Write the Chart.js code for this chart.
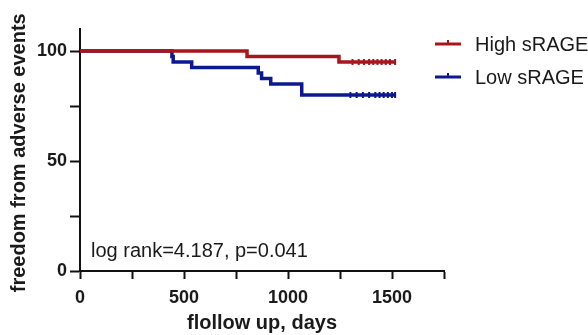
<!DOCTYPE html>
<html>
<head>
<meta charset="utf-8">
<script src="https://cdn.jsdelivr.net/npm/chart.js@4/dist/chart.umd.min.js"></script>
<style>
  html, body { margin: 0; padding: 0; background: #fff; }
  #wrap { width: 588px; height: 335px; }
</style>
</head>
<body>
<div id="wrap"><canvas id="kmChart" width="588" height="335"></canvas></div>
<script>
// Kaplan-Meier steps (days, % event free)
const highDays = [0, 803, 1245, 1515];
const highFree = [100, 97.5, 95, 95];
const lowDays = [0, 442, 448, 537, 857, 873, 917, 1066, 1515];
const lowFree = [100, 97.5, 95, 92.5, 90, 87.5, 85, 80, 80];

// censored observations (small vertical ticks)
const highCensorDays = [1310, 1340, 1365, 1390, 1410, 1430, 1450, 1470, 1490, 1515];
const highCensorFree = [95, 95, 95, 95, 95, 95, 95, 95, 95, 95];
const lowCensorDays = [1300, 1330, 1360, 1390, 1420, 1440, 1460, 1480, 1500, 1515];
const lowCensorFree = [80, 80, 80, 80, 80, 80, 80, 80, 80, 80];

const xTicks = [0, 250, 500, 750, 1000, 1250, 1500, 1750];
const xLabels = ['0', '', '500', '', '1000', '', '1500', ''];
const yTicks = [0, 25, 50, 75, 100];
const yLabels = ['0', '', '50', '', '100'];

const seriesNames = ['High sRAGE', 'Low sRAGE'];
const annotation = 'log rank=4.187, p=0.041';

const red = '#A8151D';
const blue = '#0C1890';
const fontFam = '"Liberation Sans", Arial, Helvetica, sans-serif';

function toPoints(xs, ys) {
    return xs.map((x, i) => ({ x: x, y: ys[i] }));
}

// legend + log rank text
const extrasPlugin = {
    id: 'extras',
    afterDraw(chart) {
        const ctx = chart.ctx;
        ctx.save();
        ctx.font = '20px ' + fontFam;
        ctx.fillStyle = '#1a1a1a';
        ctx.textBaseline = 'middle';
        ctx.fillText(annotation, 91, 251);

        const cols = [red, blue];
        const rows = [44, 77];
        cols.forEach((c, i) => {
            ctx.strokeStyle = c;
            ctx.lineWidth = 3;
            ctx.beginPath();
            ctx.moveTo(435, rows[i]);
            ctx.lineTo(461, rows[i]);
            ctx.stroke();
            ctx.lineWidth = 2;
            ctx.beginPath();
            ctx.moveTo(448, rows[i] - 4);
            ctx.lineTo(448, rows[i]);
            ctx.stroke();
            ctx.fillStyle = '#1a1a1a';
            ctx.font = '20px ' + fontFam;
            ctx.fillText(seriesNames[i], 475, rows[i] + 1);
        });
        ctx.restore();
    }
};

const cfg = {
    type: 'line',
    data: {
        datasets: [
            {
                label: seriesNames[0],
                data: toPoints(highDays, highFree),
                borderColor: red,
                borderWidth: 3.5,
                stepped: 'before',
                pointRadius: 0,
                fill: false
            },
            {
                label: seriesNames[1],
                data: toPoints(lowDays, lowFree),
                borderColor: blue,
                borderWidth: 3.5,
                stepped: 'before',
                pointRadius: 0,
                fill: false
            },
            {
                data: toPoints(highCensorDays, highCensorFree),
                showLine: false,
                pointStyle: 'line',
                rotation: 90,
                pointRadius: 3,
                borderColor: red,
                pointBorderWidth: 2
            },
            {
                data: toPoints(lowCensorDays, lowCensorFree),
                showLine: false,
                pointStyle: 'line',
                rotation: 90,
                pointRadius: 3,
                borderColor: blue,
                pointBorderWidth: 2
            }
        ]
    },
    options: {
        responsive: false,
        animation: false,
        layout: { padding: { top: 29, right: 144, left: 0, bottom: 0 } },
        plugins: {
            legend: { display: false },
            tooltip: { enabled: false }
        },
        scales: {
            x: {
                type: 'linear',
                min: 0,
                max: 1750,
                afterBuildTicks: (s) => { s.ticks = xTicks.map(v => ({ value: v })); },
                afterFit: (s) => { s.height = 64; },
                border: { display: true, color: '#111', width: 2 },
                grid: { drawOnChartArea: false, drawTicks: true, tickLength: 8, tickColor: '#111', tickWidth: 2 },
                ticks: {
                    autoSkip: false,
                    maxRotation: 0,
                    padding: 8,
                    color: '#1a1a1a',
                    font: { family: fontFam, size: 18, weight: 'bold' },
                    callback: (v) => xLabels[xTicks.indexOf(v)]
                },
                title: {
                    display: true,
                    text: 'flollow up, days',
                    color: '#1a1a1a',
                    padding: { top: -3, bottom: 0 },
                    font: { family: fontFam, size: 20, weight: 'bold' }
                }
            },
            y: {
                min: 0,
                max: 110,
                afterBuildTicks: (s) => { s.ticks = yTicks.map(v => ({ value: v })); },
                afterFit: (s) => { s.width = 80; },
                border: { display: true, color: '#111', width: 2 },
                grid: { drawOnChartArea: false, drawTicks: true, tickLength: 10, tickColor: '#111', tickWidth: 2 },
                ticks: {
                    autoSkip: false,
                    padding: 3,
                    color: '#1a1a1a',
                    font: { family: fontFam, size: 18, weight: 'bold' },
                    callback: (v) => yLabels[yTicks.indexOf(v)]
                },
                title: {
                    display: true,
                    // trailing space nudges the rotated title down a little
                    text: 'freedom from adverse events ',
                    color: '#1a1a1a',
                    padding: { top: 7, bottom: 0 },
                    font: { family: fontFam, size: 20, weight: 'bold' }
                }
            }
        }
    },
    plugins: [extrasPlugin]
};

const kmChart = new Chart(document.getElementById('kmChart'), cfg);
</script>
</body>
</html>
